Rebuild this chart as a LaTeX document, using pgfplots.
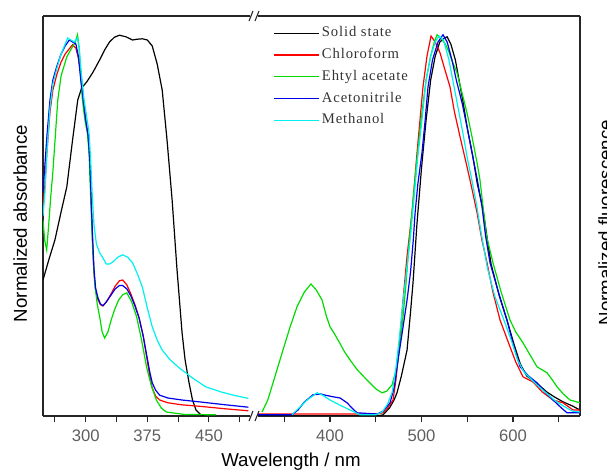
\documentclass[border=0pt]{standalone}
\usepackage{fontspec}
\setmainfont{Liberation Sans}
\newfontfamily\legfont[LetterSpace=6]{Liberation Serif}
\usepackage{pgfplots}
\pgfplotsset{compat=1.18}
\definecolor{cred}{RGB}{255,0,0}
\definecolor{cgreen}{RGB}{0,220,0}
\definecolor{cblue}{RGB}{0,0,235}
\definecolor{ccyan}{RGB}{0,240,240}
\definecolor{ticktext}{RGB}{95,95,95}

\pgfplotsset{
  spec/.style={
    scale only axis, height=300pt, ymin=0, ymax=1, ytick=\empty,
    axis line style={-, line width=1pt, draw=black!85},
    tick align=outside, xtick pos=left,
    major tick length=4.5pt, minor tick length=4.5pt,
    tick style={line width=0.8pt, black!85},
    /pgf/number format/assume math mode=true,
    xticklabel style={font=\fontsize{12.5}{14}\selectfont, text=ticktext},
    xticklabel shift=2pt,
    every axis plot/.append style={line width=0.9pt},
  },
}

\begin{document}
\begin{tikzpicture}
\useasboundingbox (-32.25pt,-41.25pt) rectangle (423pt,312pt);

% absorbance
\begin{axis}[spec, at={(0pt,0pt)}, anchor=south west, width=155.25pt,
  xmin=248, xmax=500, axis y line*=left, axis x line*=box,
  xtick={300,375,450}, minor xtick={262.5,337.5,412.5,487.5}]
\addplot[black] coordinates {(248,0.34) (255,0.39) (262.5,0.44) (270,0.51) (277,0.573) (284,0.69) (290.3,0.79) (295,0.82) (301.2,0.835) (309,0.86) (316.9,0.89) (323,0.915) (329,0.935) (335,0.947) (341.1,0.952) (349,0.948) (356.9,0.94) (363,0.942) (369,0.943) (375,0.94) (381,0.925) (387,0.88) (393.1,0.815) (399,0.69) (405.2,0.54) (411,0.37) (417.3,0.208) (421,0.14) (425.8,0.083) (430,0.04) (434.3,0.015) (440,0.003) (446,0.0)};
\addplot[cred] coordinates {(248,0.52) (250.4,0.58) (252.8,0.66) (256.5,0.76) (260,0.815) (265,0.855) (270,0.885) (275,0.905) (280,0.918) (284,0.928) (288,0.92) (291,0.895) (294,0.86) (297,0.8) (300,0.74) (303,0.7) (305,0.64) (307,0.52) (308.5,0.43) (310,0.36) (312,0.315) (315,0.29) (318,0.278) (321,0.275) (325,0.285) (330,0.302) (336,0.325) (341,0.338) (345,0.34) (350,0.328) (355,0.305) (360,0.278) (365,0.245) (370,0.2) (374,0.15) (378,0.1) (381,0.07) (385,0.05) (390,0.04) (400,0.033) (417,0.028) (440,0.024) (470,0.018) (498,0.013)};
\addplot[cgreen] coordinates {(248,0.49) (250,0.44) (252.5,0.415) (255,0.48) (257.5,0.55) (260,0.61) (263,0.7) (266,0.79) (270,0.85) (277,0.898) (283,0.92) (287,0.933) (290,0.953) (292,0.92) (294,0.85) (296,0.79) (299,0.74) (302,0.708) (304,0.66) (306,0.55) (308.5,0.415) (311,0.33) (314,0.28) (317,0.248) (320,0.21) (323,0.195) (327,0.21) (331,0.24) (335,0.265) (340,0.29) (345,0.303) (350,0.308) (356,0.285) (362,0.248) (368,0.19) (374,0.123) (380,0.075) (386,0.04) (392,0.02) (398,0.01) (420,0.004) (458.5,0.003)};
\addplot[cblue] coordinates {(248,0.56) (250.4,0.63) (252.8,0.7) (256.5,0.79) (260,0.84) (264.9,0.875) (270,0.905) (275,0.925) (280,0.94) (284,0.935) (288,0.93) (291,0.9) (294,0.84) (297,0.79) (300,0.74) (303,0.7) (305,0.64) (307,0.52) (308.5,0.44) (310,0.37) (312,0.32) (315,0.295) (318,0.28) (321,0.276) (325,0.285) (330,0.3) (336,0.318) (341,0.326) (345,0.326) (350,0.318) (355,0.3) (360,0.275) (365,0.245) (370,0.2) (374,0.155) (378,0.11) (381,0.083) (385,0.065) (390,0.052) (400,0.045) (417,0.04) (440,0.035) (470,0.028) (498,0.022)};
\addplot[ccyan] coordinates {(248,0.5) (250.4,0.56) (252.8,0.66) (256.5,0.77) (260,0.83) (265,0.87) (270,0.905) (275,0.93) (278,0.945) (282,0.94) (286,0.935) (290,0.945) (292,0.92) (295,0.85) (298,0.79) (301,0.75) (304,0.71) (306,0.64) (308,0.55) (310,0.48) (313,0.43) (317,0.408) (321,0.395) (325,0.38) (329,0.38) (333,0.385) (339,0.397) (345,0.403) (351,0.397) (357,0.383) (363,0.355) (369,0.322) (375,0.27) (381,0.223) (387,0.19) (393,0.165) (403,0.14) (414,0.12) (430,0.095) (446,0.073) (465,0.06) (480,0.052) (498,0.044)};
\end{axis}

% fluorescence
\begin{axis}[spec, at={(161.25pt,0pt)}, anchor=south west, width=241.5pt,
  xmin=321.3, xmax=673.2, axis y line*=right, axis x line*=box,
  xtick={400,500,600}, minor xtick={350,450,550,650},
  legend style={draw=none, fill=none, at={(0.047,0.98)}, anchor=north west,
    font=\legfont\fontsize{11}{13}\selectfont, text=black!80,
    row sep=2.8pt, inner sep=0pt,
    nodes={inner sep=1.5pt, text height=8pt, text depth=2.5pt}},
  legend cell align=left,
  legend image code/.code={\draw[#1] (0pt,0pt) -- (34pt,0pt);}]
\addplot[black] coordinates {(321.3,0.0) (452,0.0) (458,0.003) (465,0.02) (470,0.04) (473.2,0.058) (478,0.1) (484.2,0.165) (488,0.26) (490.7,0.333) (495,0.48) (500,0.62) (505,0.74) (510,0.84) (515,0.9) (520,0.935) (525,0.945) (528,0.948) (532,0.93) (537,0.89) (545,0.79) (550,0.72) (556,0.65) (561,0.58) (567,0.52) (572,0.44) (576,0.38) (585,0.3) (594,0.235) (601,0.18) (608,0.13) (615,0.1) (627,0.08) (637,0.06) (645,0.048) (655,0.035) (665,0.025) (673,0.015)};
\addlegendentry{Solid state}
\addplot[cred] coordinates {(321.3,0.005) (452,0.005) (457.9,0.008) (463,0.02) (468.9,0.04) (472,0.09) (474.3,0.14) (477,0.21) (479.8,0.29) (484.2,0.4) (489.6,0.508) (495.1,0.658) (501.6,0.823) (506,0.9) (510.4,0.95) (515,0.935) (520.2,0.908) (525,0.87) (531.1,0.823) (536,0.76) (542.1,0.698) (548,0.64) (553,0.59) (560.7,0.508) (566,0.44) (571.6,0.383) (578,0.31) (585.8,0.24) (596.7,0.173) (603,0.135) (610.9,0.098) (621.9,0.085) (632,0.06) (643.7,0.04) (654.6,0.033) (665.6,0.015) (673.2,0.015)};
\addlegendentry{Chloroform}
\addplot[cgreen] coordinates {(325.7,0.01) (332,0.04) (340,0.1) (348.6,0.165) (356,0.22) (363.9,0.273) (372,0.31) (379.2,0.33) (385,0.315) (391.3,0.29) (396,0.25) (400,0.223) (405,0.205) (410,0.185) (416,0.16) (421.9,0.14) (430,0.115) (440.4,0.09) (450,0.068) (456.8,0.058) (462,0.062) (467.8,0.078) (473.2,0.123) (477,0.19) (479.8,0.248) (483,0.33) (486,0.42) (490,0.52) (494,0.62) (500,0.75) (505,0.84) (510,0.9) (514,0.935) (517,0.953) (521,0.945) (526,0.93) (530,0.91) (533,0.89) (538.8,0.858) (544,0.81) (549.7,0.758) (555,0.7) (560.7,0.633) (563.9,0.59) (567.2,0.523) (571,0.45) (578.1,0.383) (587,0.31) (596.7,0.24) (603,0.21) (610.9,0.183) (618,0.155) (626.2,0.123) (637.2,0.108) (643,0.09) (648.1,0.073) (655,0.055) (662.3,0.04) (673.2,0.033)};
\addlegendentry{Ehtyl acetate}
\addplot[cblue] coordinates {(321.3,0.003) (358.5,0.003) (365,0.015) (372,0.035) (381.4,0.053) (390,0.055) (395,0.052) (403.3,0.048) (411,0.045) (418.6,0.033) (424,0.02) (429.5,0.008) (451.4,0.005) (458,0.012) (465.6,0.033) (470,0.07) (474.3,0.14) (479,0.21) (484.2,0.29) (488,0.36) (491,0.44) (493,0.508) (496,0.58) (500.5,0.658) (504,0.74) (507.1,0.823) (512,0.89) (518,0.935) (523.5,0.953) (528,0.935) (533.3,0.89) (538,0.84) (544.3,0.783) (550,0.72) (555.2,0.658) (561,0.59) (566.1,0.523) (570,0.45) (574.9,0.383) (584,0.31) (593.4,0.24) (600,0.18) (607.7,0.123) (617,0.1) (626.2,0.083) (635,0.06) (643.7,0.04) (652,0.022) (659,0.008) (673.2,0.008)};
\addlegendentry{Acetonitrile}
\addplot[ccyan] coordinates {(358.5,0.003) (366,0.02) (375,0.04) (385.8,0.058) (392,0.052) (400,0.04) (410,0.028) (421.9,0.015) (432.8,0.003) (450,0.003) (457,0.01) (463,0.03) (468,0.06) (472,0.12) (476,0.2) (480,0.29) (484,0.37) (488,0.45) (492,0.55) (496,0.65) (500,0.73) (505,0.84) (510,0.9) (515,0.935) (519.1,0.95) (524,0.94) (530,0.89) (535,0.83) (540,0.77) (545,0.71) (550,0.645) (555,0.59) (560,0.53) (565,0.46) (572,0.37) (580,0.3) (590,0.24) (598,0.19) (605,0.14) (612,0.11) (625,0.08) (635,0.06) (645,0.04) (655,0.025) (665,0.012) (673,0.01)};
\addlegendentry{Methanol}
\end{axis}

% axis break marks
\foreach \yy in {0pt,300pt}{
  \draw[line width=0.8pt, black!85] (154.5pt,\yy-3.75pt) -- (157.5pt,\yy+3.75pt);
  \draw[line width=0.8pt, black!85] (159pt,\yy-3.75pt) -- (162pt,\yy+3.75pt);
}

\node[rotate=90, anchor=north, inner sep=0pt, font=\fontsize{14}{16}\selectfont] at (-22.5pt,144.4pt) {Normalized absorbance};
\node[rotate=90, anchor=north, inner sep=0pt, font=\fontsize{14}{16}\selectfont] at (416.25pt,145pt) {Normalized fluorescence};
\node[anchor=base, inner sep=0pt, font=\fontsize{14}{16}\selectfont] at (186pt,-38.25pt) {Wavelength / nm};
\end{tikzpicture}
\end{document}
